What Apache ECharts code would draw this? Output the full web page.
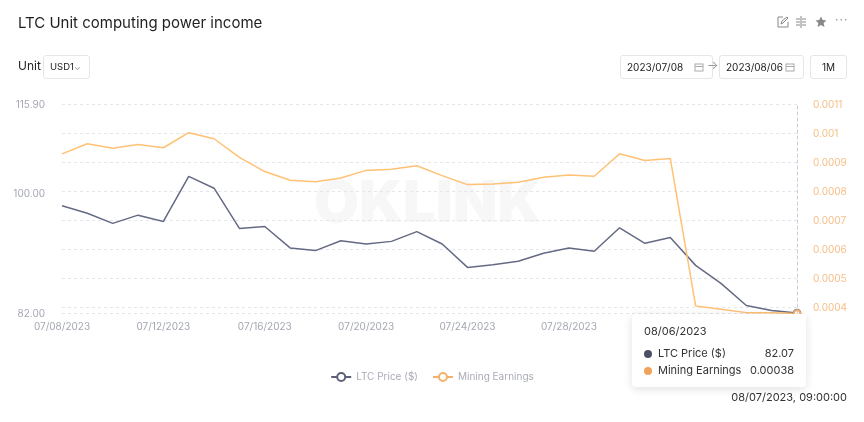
<!DOCTYPE html>
<html lang="en">
<head>
    <meta charset="UTF-8">
    <title>LTC Unit computing power income</title>
    <script src="https://cdn.jsdelivr.net/npm/echarts@6/dist/echarts.min.js"></script>
    <style>
        body { margin: 0; background: #fff; font-family: Inter, "Noto Sans", sans-serif; }
        #wrap { position: relative; width: 864px; height: 422px; overflow: hidden; }
        #main { position: absolute; left: 0; top: 0; width: 864px; height: 422px; }
        .t { position: absolute; color: #1f1f1f; white-space: nowrap; }
        .box { position: absolute; border: 1px solid #e6e6e6; border-radius: 3px; box-sizing: border-box;
               font-size: 10px; color: #222; line-height: 22px; }
        .ico { position: absolute; top: 16px; }
    </style>
</head>
<body>
<div id="wrap">
    <div id="main"></div>
    <div class="t" style="left:18px;top:13px;font-size:15px;">LTC Unit computing power income</div>
    <div class="t" style="left:18px;top:58px;font-size:12px;">Unit</div>
    <div class="box" style="left:43px;top:55px;width:47px;height:24px;padding-left:6px;font-size:9.5px;">USD1<span style="color:#999;font-size:9px;">&#8964;</span></div>
    <div class="box" style="left:620px;top:55px;width:93px;height:24px;padding-left:6px;">2023/07/08
        <svg style="position:absolute;right:8px;top:6px" width="10" height="10"><rect x="1" y="2" width="8" height="7" fill="none" stroke="#aaa"/><line x1="1" y1="4.5" x2="9" y2="4.5" stroke="#aaa"/></svg></div>
    <div class="t" style="left:707px;top:57px;font-size:12px;color:#999;">&#8594;</div>
    <div class="box" style="left:719px;top:55px;width:85px;height:24px;padding-left:6px;">2023/08/06
        <svg style="position:absolute;right:8px;top:6px" width="10" height="10"><rect x="1" y="2" width="8" height="7" fill="none" stroke="#aaa"/><line x1="1" y1="4.5" x2="9" y2="4.5" stroke="#aaa"/></svg></div>
    <div class="box" style="left:810px;top:55px;width:37px;height:24px;text-align:center;">1M</div>
    <svg class="ico" style="left:777px" width="12" height="12"><path d="M6 1H1v10h10V6" fill="none" stroke="#888"/><path d="M4 8l1-3 5-4 1 1-5 5z" fill="none" stroke="#888"/></svg>
    <svg class="ico" style="left:795px" width="12" height="12"><path d="M6 0v12M1 3h4M7 3h4M1 6h4M7 6h4M1 9h4M7 9h4" stroke="#888"/></svg>
    <svg class="ico" style="left:815px" width="12" height="12"><path d="M6 0.5l1.7 3.6 3.8.4-2.9 2.6.9 3.9L6 9 2.5 11l.9-3.9L.5 4.5l3.8-.4z" fill="#888"/></svg>
    <div class="t" style="left:835px;top:12px;font-size:12px;color:#888;letter-spacing:1px;">&#183;&#183;&#183;</div>
    <div class="t" style="right:17px;top:390px;font-size:11px;color:#333;z-index:20;">08/07/2023, 09:00:00</div>
</div>
<script>
    // dates on the x axis
    var dates = ['07/08/2023','07/09/2023','07/10/2023','07/11/2023','07/12/2023','07/13/2023','07/14/2023',
        '07/15/2023','07/16/2023','07/17/2023','07/18/2023','07/19/2023','07/20/2023','07/21/2023','07/22/2023',
        '07/23/2023','07/24/2023','07/25/2023','07/26/2023','07/27/2023','07/28/2023','07/29/2023','07/30/2023',
        '07/31/2023','08/01/2023','08/02/2023','08/03/2023','08/04/2023','08/05/2023','08/06/2023'];
    // LTC price ($)
    var ltcPrice = [98.0, 96.8, 95.2, 96.5, 95.5, 102.9, 100.9, 94.4, 94.7, 91.4, 91.0, 92.5, 92.0, 92.4, 93.9,
        92.0, 88.5, 88.9, 89.4, 90.6, 91.4, 90.9, 94.5, 92.1, 93.0, 88.8, 86.2, 83.1, 82.4, 82.07];
    // mining earnings
    var miningEarnings = [0.000930, 0.000965, 0.000949, 0.000962, 0.000951, 0.001003, 0.000982, 0.000918,
        0.000869, 0.000839, 0.000834, 0.000847, 0.000873, 0.000877, 0.000889, 0.000855, 0.000824, 0.000826,
        0.000832, 0.000849, 0.000857, 0.000853, 0.000930, 0.000907, 0.000914, 0.000406, 0.000395, 0.000383,
        0.000383, 0.00038];
    var leftMin = 82, leftMax = 115.9;
    var rightMin = 0.00038, rightMax = 0.0011;

    var grey = '#5c6178', orange = '#f5b06a';
    var myChart = echarts.init(document.getElementById('main'));
    myChart.setOption({
        animation: false,
        textStyle: { fontFamily: 'Inter, "Noto Sans", sans-serif' },
        graphic: [{
            type: 'text', left: 314, top: 176, z: -10, silent: true,
            style: { text: 'OKLINK', font: '900 58px Inter', fill: '#f7f7f7' }
        }],
        grid: { left: 62, right: 67, top: 104.5, bottom: 108.5 },
        legend: {
            bottom: 35, left: 'center', itemWidth: 20, itemHeight: 10, itemGap: 14,
            textStyle: { color: '#a9acb7', fontSize: 10 },
            data: ['LTC Price ($)', 'Mining Earnings']
        },
        tooltip: {
            trigger: 'axis',
            alwaysShowContent: true,
            position: [632, 314],
            padding: 0,
            borderWidth: 0,
            backgroundColor: '#fff',
            extraCssText: 'box-shadow:0 2px 10px rgba(0,0,0,0.12);border-radius:4px;',
            axisPointer: { type: 'line', lineStyle: { color: '#ccd', type: 'dashed', width: 1 } },
            formatter: function (ps) {
                var s = '<div style="width:150px;padding:9px 12px 8px 12px;font-size:11px;color:#333;font-family:Inter;">' +
                    '<div style="line-height:16px;margin-bottom:6px;">' + ps[0].axisValue + '</div>';
                ps.forEach(function (p) {
                    s += '<div style="display:flex;align-items:center;line-height:17px;">' +
                        '<span style="flex:none;width:8px;height:8px;border-radius:4px;background:' + (p.seriesIndex ? '#f0a35a' : '#4b5066') +
                        ';margin-right:6px;"></span><span style="flex:1;white-space:nowrap;">' + p.seriesName + '</span><span style="margin-left:8px;">' +
                        (p.seriesIndex ? p.value.toFixed(5) : p.value.toFixed(2)) + '</span></div>';
                });
                return s + '</div>';
            }
        },
        xAxis: {
            type: 'category',
            boundaryGap: false,
            data: dates,
            axisLine: { show: false },
            axisTick: { show: false },
            axisLabel: { interval: 3, color: '#a4a8b3', fontSize: 10, margin: 8 }
        },
        yAxis: [{
            type: 'log',
            min: leftMin,
            max: leftMax,
            position: 'left',
            axisLine: { show: false },
            axisTick: { show: false },
            splitLine: { show: false },
            axisLabel: { color: '#a4a8b3', fontSize: 10, margin: 17, formatter: function (v) { return v.toFixed(2); } }
        }, {
            type: 'value',
            min: rightMin,
            max: rightMax,
            position: 'right',
            axisLine: { show: false },
            axisTick: { show: false },
            splitLine: { show: true, lineStyle: { color: '#e4e6ec', type: [3, 3] } },
            axisLabel: { color: '#f6bf88', fontSize: 10, margin: 16, showMinLabel: false }
        }],
        series: [{
            name: 'LTC Price ($)',
            type: 'line',
            yAxisIndex: 0,
            data: ltcPrice,
            showSymbol: false,
            symbol: 'emptyCircle',
            symbolSize: 6,
            color: grey,
            lineStyle: { width: 1.5, color: grey }
        }, {
            name: 'Mining Earnings',
            type: 'line',
            yAxisIndex: 1,
            data: miningEarnings,
            showSymbol: false,
            symbol: 'emptyCircle',
            symbolSize: 6,
            color: orange,
            lineStyle: { width: 1.5, color: orange }
        }]
    });
    myChart.dispatchAction({ type: 'showTip', seriesIndex: 0, dataIndex: dates.length - 1 });
</script>
</body>
</html>
